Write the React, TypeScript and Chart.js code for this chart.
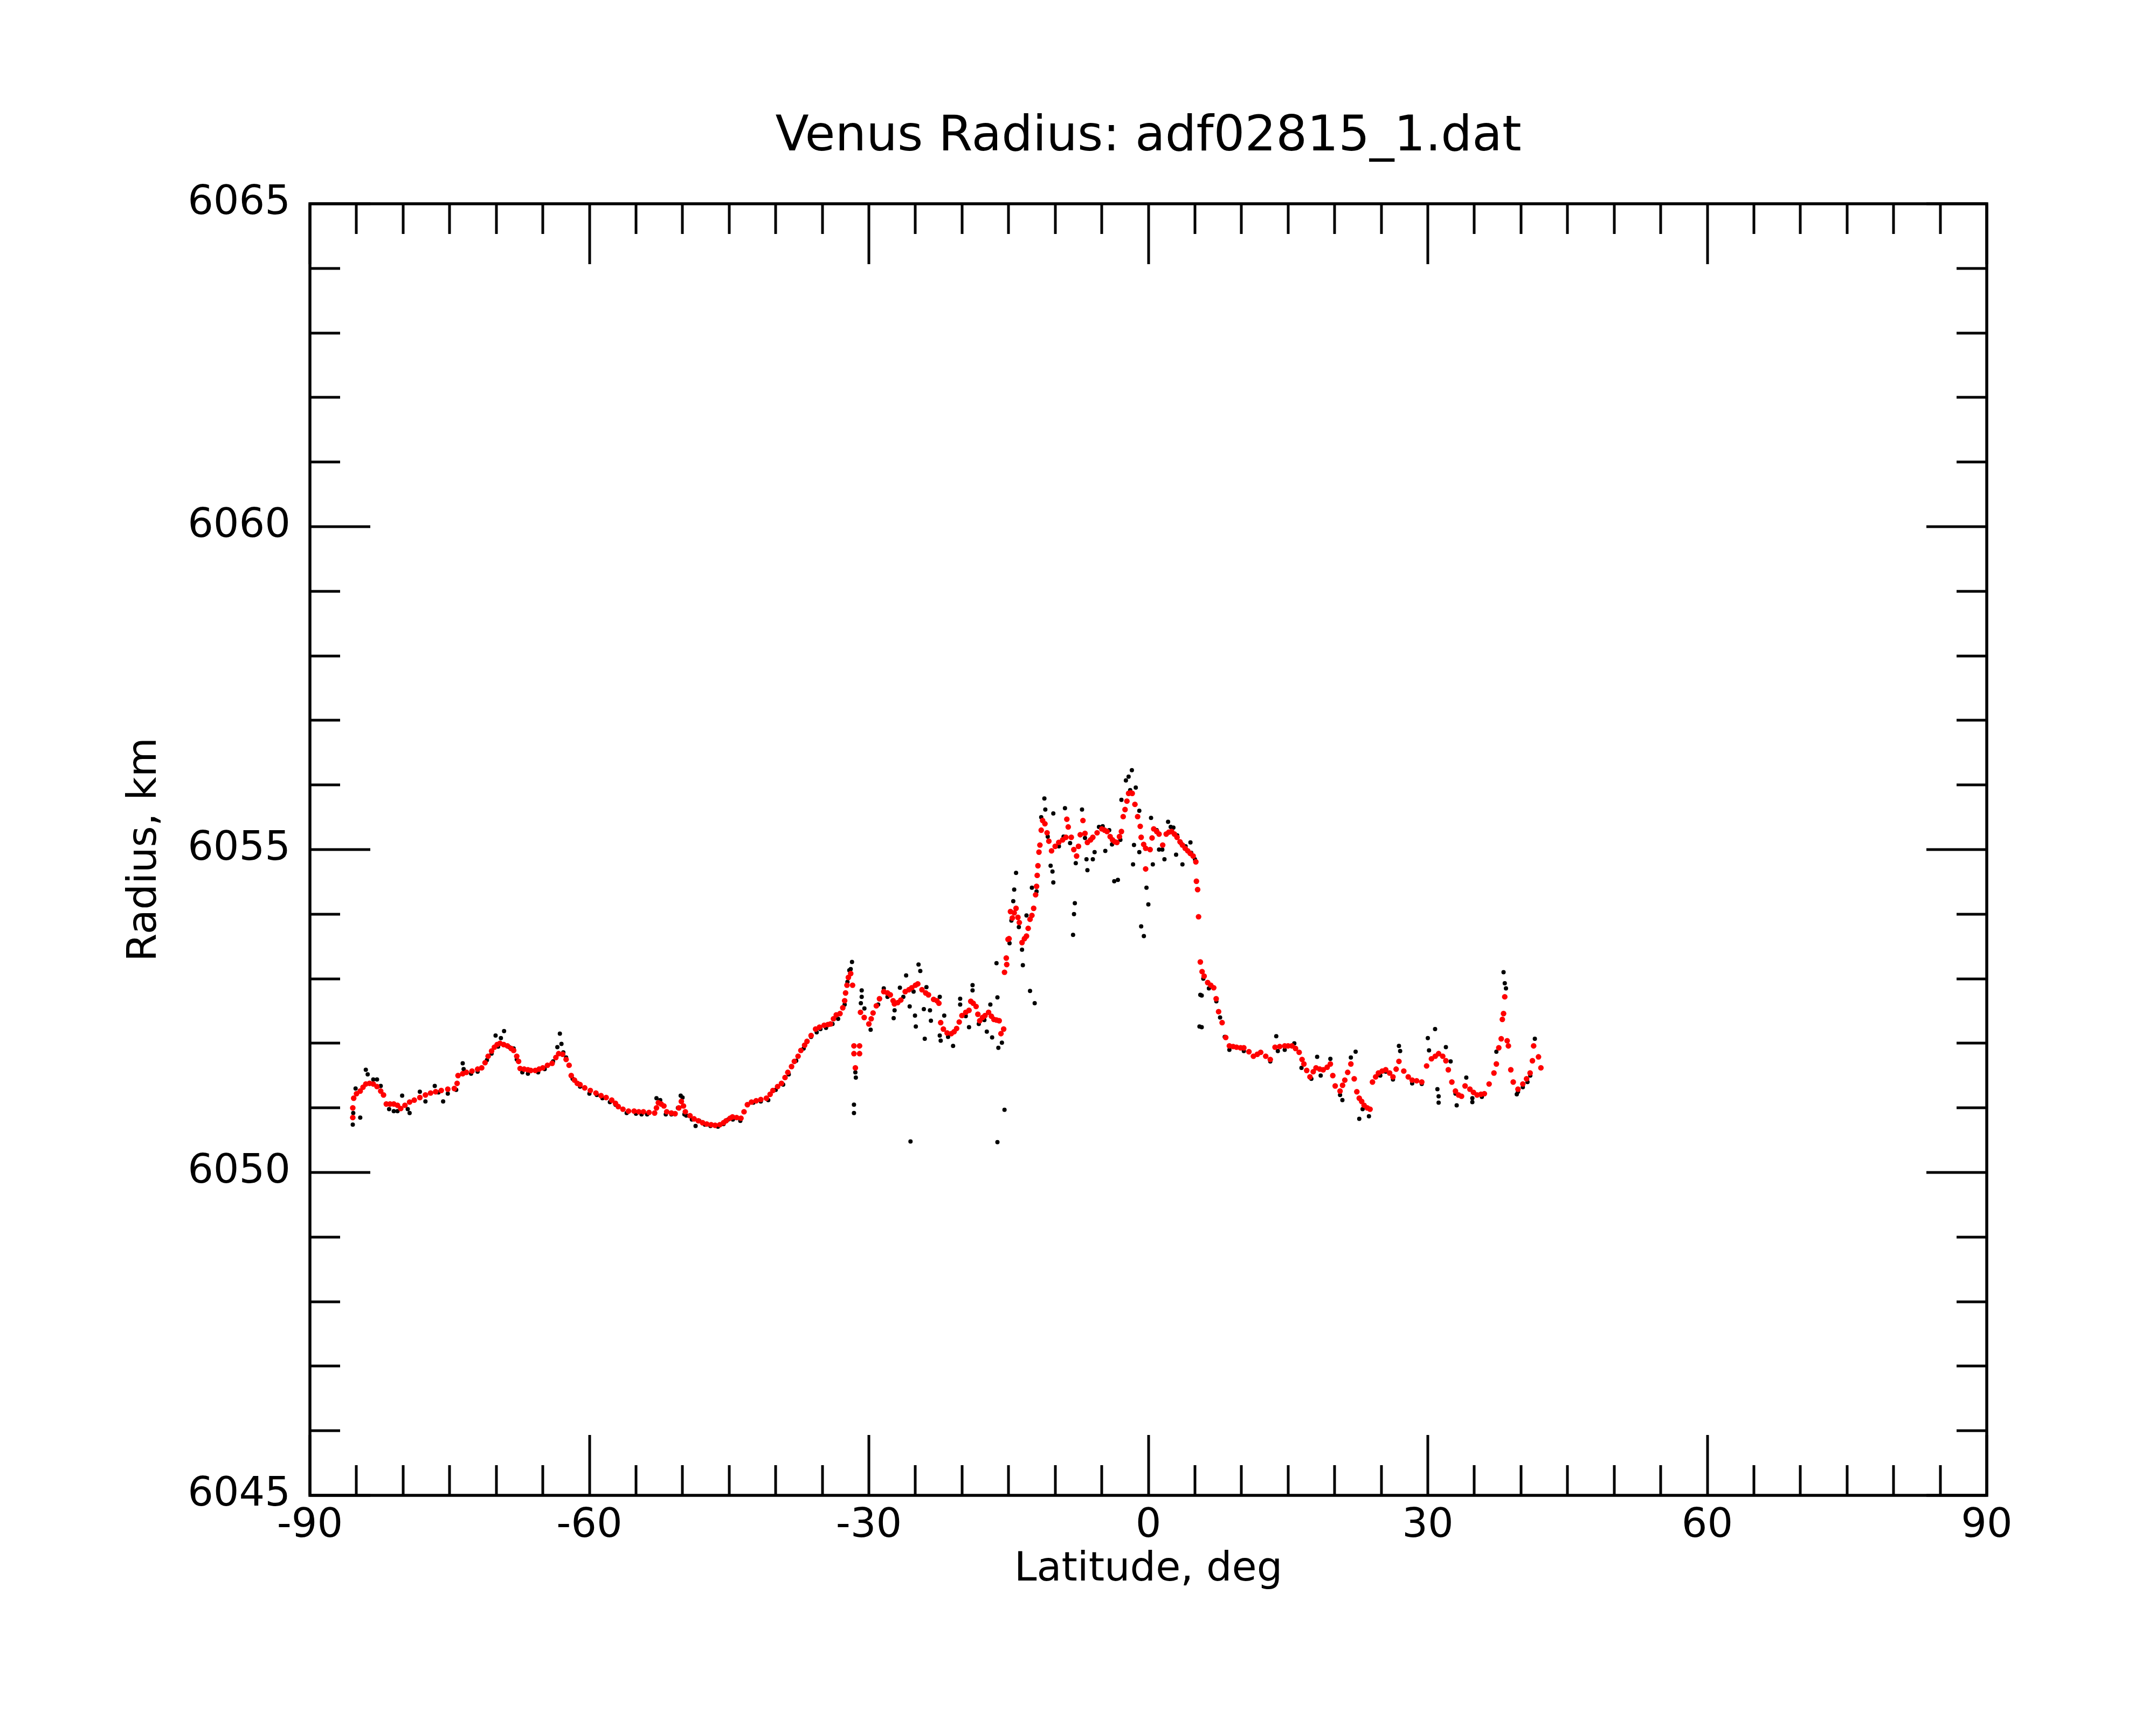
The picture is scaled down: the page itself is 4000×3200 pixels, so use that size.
import React, { useEffect, useRef } from "react";
import { Chart, registerables } from "chart.js";

Chart.register(...registerables);

const TITLE = "Venus Radius: adf02815_1.dat";
const X_TITLE = "Latitude, deg";
const Y_TITLE = "Radius, km";
const X_MIN = -90;
const X_MAX = 90;
const Y_MIN = 6045;
const Y_MAX = 6065;
const X_LABEL_STEP = 30;
const X_MINOR_STEP = 5;
const Y_LABEL_STEP = 5;
const Y_MINOR_STEP = 1;

// smoothed radius (red), [latitude deg, radius km]
const redSouth: [number, number][] = [
  [-85.4, 6050.85], [-85.4, 6051.0], [-85.3, 6051.15], [-85.0, 6051.22], [-84.6, 6051.26], [-84.3, 6051.32],
  [-84.0, 6051.37], [-83.6, 6051.38], [-83.2, 6051.37], [-82.8, 6051.33], [-82.4, 6051.26], [-82.1, 6051.2],
  [-81.8, 6051.06], [-81.4, 6051.06], [-81.0, 6051.06], [-80.6, 6051.04], [-80.25, 6050.99], [-79.8, 6051.04],
  [-79.3, 6051.09], [-78.8, 6051.12], [-78.2, 6051.16], [-77.6, 6051.2], [-77.05, 6051.23], [-76.5, 6051.25],
  [-75.9, 6051.27], [-75.2, 6051.29], [-74.5, 6051.3], [-74.2, 6051.38], [-74.1, 6051.5], [-73.6, 6051.53],
  [-73.2, 6051.55], [-72.6, 6051.57], [-72.0, 6051.6], [-71.56, 6051.62], [-71.2, 6051.7], [-70.87, 6051.8],
  [-70.5, 6051.88], [-70.2, 6051.94], [-69.9, 6051.98], [-69.6, 6052.0], [-69.2, 6051.98], [-68.8, 6051.96],
  [-68.4, 6051.92], [-68.13, 6051.89], [-67.8, 6051.8], [-67.6, 6051.72], [-67.44, 6051.61], [-67.0, 6051.6],
  [-66.6, 6051.59], [-66.3, 6051.58], [-65.8, 6051.58], [-65.4, 6051.6], [-65.0, 6051.62], [-64.5, 6051.66],
  [-64.0, 6051.69], [-63.6, 6051.78], [-63.3, 6051.84], [-62.87, 6051.83], [-62.5, 6051.75], [-62.18, 6051.66],
  [-61.95, 6051.5], [-61.6, 6051.43], [-61.3, 6051.38], [-61.0, 6051.36], [-60.5, 6051.31], [-59.9, 6051.27],
  [-59.3, 6051.23], [-58.75, 6051.19], [-58.2, 6051.16], [-57.6, 6051.12], [-57.2, 6051.07], [-56.9, 6051.02],
  [-56.4, 6050.98], [-55.8, 6050.95], [-55.2, 6050.95], [-54.7, 6050.94], [-54.2, 6050.94], [-53.6, 6050.93],
  [-53.0, 6050.92], [-52.8, 6051.0], [-52.6, 6051.08], [-52.3, 6051.06], [-52.0, 6051.03], [-51.7, 6050.94],
  [-51.2, 6050.92], [-50.8, 6050.91], [-50.4, 6051.0], [-50.13, 6051.1], [-49.9, 6051.03], [-49.7, 6050.94],
  [-49.2, 6050.88], [-48.76, 6050.83], [-48.3, 6050.8], [-47.85, 6050.77], [-47.4, 6050.75], [-46.93, 6050.74],
  [-46.5, 6050.73], [-46.0, 6050.74], [-45.6, 6050.77], [-45.33, 6050.8], [-44.9, 6050.84], [-44.64, 6050.86],
  [-44.2, 6050.85], [-43.73, 6050.84], [-43.4, 6050.94], [-43.04, 6051.05], [-42.6, 6051.09], [-42.1, 6051.11],
  [-41.6, 6051.13], [-41.0, 6051.15], [-40.6, 6051.21], [-40.3, 6051.27], [-39.8, 6051.33], [-39.38, 6051.38],
  [-39.0, 6051.47], [-38.7, 6051.55], [-38.3, 6051.64], [-38.0, 6051.72], [-37.6, 6051.8], [-37.3, 6051.89],
  [-36.9, 6051.97], [-36.64, 6052.03], [-36.2, 6052.12], [-35.72, 6052.22], [-35.3, 6052.25], [-34.8, 6052.28],
  [-34.4, 6052.29], [-34.12, 6052.3], [-33.8, 6052.38], [-33.5, 6052.44], [-33.1, 6052.46], [-32.8, 6052.55],
  [-32.6, 6052.66], [-32.5, 6052.78], [-32.35, 6052.9], [-32.2, 6053.02], [-31.95, 6053.08], [-31.75, 6052.9],
];

const redMiddle: [number, number][] = [
  [-31.6, 6051.96], [-31.6, 6051.84], [-31.45, 6051.62], [-31.0, 6051.96], [-31.0, 6051.84],
  [-30.9, 6052.48], [-30.5, 6052.4], [-30.0, 6052.3], [-29.75, 6052.38], [-29.55, 6052.47], [-29.2, 6052.58],
  [-28.86, 6052.69], [-28.4, 6052.8], [-28.0, 6052.78], [-27.7, 6052.75], [-27.4, 6052.66], [-27.26, 6052.61],
  [-26.9, 6052.63], [-26.57, 6052.67], [-26.1, 6052.8], [-25.7, 6052.83], [-25.4, 6052.86], [-25.0, 6052.9],
  [-24.75, 6052.92], [-24.3, 6052.83], [-23.9, 6052.78], [-23.6, 6052.75], [-23.05, 6052.68], [-22.7, 6052.66],
  [-22.48, 6052.62], [-22.29, 6052.32], [-22.0, 6052.22], [-21.6, 6052.16], [-21.15, 6052.15], [-20.85, 6052.18],
  [-20.58, 6052.23], [-20.3, 6052.33], [-20.01, 6052.43], [-19.6, 6052.48], [-19.25, 6052.51], [-19.06, 6052.65],
  [-18.8, 6052.62], [-18.49, 6052.57], [-18.3, 6052.45], [-18.1, 6052.35], [-17.8, 6052.4], [-17.53, 6052.43],
  [-17.15, 6052.48], [-16.85, 6052.42], [-16.58, 6052.37], [-16.3, 6052.36], [-16.01, 6052.35], [-15.82, 6052.15],
  [-15.53, 6052.22], [-15.44, 6053.1], [-15.25, 6053.32], [-15.2, 6053.22], [-15.06, 6053.61],
];

const redEquator: [number, number][] = [
  [-14.95, 6053.62], [-14.8, 6054.04], [-14.6, 6053.94], [-14.4, 6054.02], [-14.2, 6054.09], [-14.0, 6053.95],
  [-13.85, 6053.87], [-13.56, 6053.56], [-13.3, 6053.62], [-13.08, 6053.66], [-12.9, 6053.78], [-12.7, 6053.92],
  [-12.5, 6053.98], [-12.31, 6054.09], [-12.1, 6054.3], [-12.0, 6054.43], [-11.93, 6054.6], [-11.85, 6054.75],
  [-11.74, 6054.96], [-11.64, 6055.07], [-11.5, 6055.3], [-11.35, 6055.45], [-11.1, 6055.4], [-10.87, 6055.26],
  [-10.68, 6055.13], [-10.39, 6054.98], [-10.0, 6055.05], [-9.62, 6055.11], [-9.2, 6055.15], [-8.85, 6055.19],
  [-8.75, 6055.47], [-8.6, 6055.35], [-8.27, 6055.19], [-8.0, 6055.0], [-7.7, 6054.9], [-7.5, 6055.05],
  [-7.31, 6055.23], [-7.02, 6055.45], [-6.8, 6055.25], [-6.54, 6055.11], [-6.2, 6055.15], [-5.96, 6055.19],
  [-5.5, 6055.26], [-5.0, 6055.32], [-4.7, 6055.3], [-4.43, 6055.28], [-4.1, 6055.2], [-3.85, 6055.15],
  [-3.6, 6055.12], [-3.37, 6055.11], [-3.1, 6055.2], [-2.89, 6055.28], [-2.7, 6055.51], [-2.5, 6055.62],
  [-2.3, 6055.75], [-2.12, 6055.87], [-1.9, 6055.88], [-1.73, 6055.87], [-1.44, 6055.7], [-1.15, 6055.51],
  [-0.87, 6055.36], [-0.77, 6055.19], [-0.5, 6055.08], [-0.29, 6055.02], [-0.29, 6054.7], [0.19, 6055.0],
  [0.4, 6055.18], [0.58, 6055.32], [0.9, 6055.28], [1.15, 6055.24], [1.54, 6055.07], [1.92, 6055.24],
  [2.2, 6055.27], [2.5, 6055.28], [2.8, 6055.24], [3.08, 6055.19], [3.4, 6055.12], [3.66, 6055.07],
  [3.95, 6055.02], [4.23, 6054.98], [4.5, 6054.94], [4.81, 6054.9], [5.1, 6054.81], [5.16, 6054.51],
  [5.29, 6054.38], [5.39, 6053.96], [5.58, 6053.26], [5.77, 6053.11],
];

const redNorth: [number, number][] = [
  [5.99, 6053.04], [6.37, 6052.94], [6.7, 6052.9], [7.02, 6052.86], [7.28, 6052.69], [7.54, 6052.49],
  [7.92, 6052.32], [8.31, 6052.09], [8.7, 6051.96], [9.1, 6051.95], [9.47, 6051.94], [9.9, 6051.93],
  [10.25, 6051.93], [10.8, 6051.87], [11.28, 6051.8], [11.7, 6051.83], [12.06, 6051.86], [12.6, 6051.8],
  [13.09, 6051.75], [13.6, 6051.94], [14.1, 6051.95], [14.64, 6051.96], [15.0, 6051.96], [15.41, 6051.96],
  [15.8, 6051.92], [16.19, 6051.86], [16.5, 6051.75], [16.7, 6051.68], [17.0, 6051.58], [17.35, 6051.48],
  [17.7, 6051.56], [18.0, 6051.62], [18.4, 6051.6], [18.77, 6051.59], [19.2, 6051.63], [19.54, 6051.68],
  [19.8, 6051.5], [20.06, 6051.34], [20.58, 6051.26], [20.85, 6051.35], [21.09, 6051.43], [21.4, 6051.55],
  [21.74, 6051.68], [22.1, 6051.45], [22.38, 6051.25], [22.64, 6051.15], [22.9, 6051.1], [23.16, 6051.04],
  [23.5, 6051.0], [23.8, 6050.98], [24.06, 6051.4], [24.4, 6051.48], [24.7, 6051.54], [25.1, 6051.57],
  [25.48, 6051.59], [25.9, 6051.54], [26.26, 6051.48], [26.6, 6051.6], [26.9, 6051.72], [27.42, 6051.57],
  [27.9, 6051.48], [28.32, 6051.43], [28.8, 6051.42], [29.35, 6051.4], [29.87, 6051.65], [30.39, 6051.76],
  [30.8, 6051.8], [31.16, 6051.84], [31.6, 6051.8], [31.94, 6051.73], [32.2, 6051.59], [32.58, 6051.4],
  [32.97, 6051.26], [33.3, 6051.2], [33.62, 6051.18], [34.0, 6051.34], [34.52, 6051.29], [34.9, 6051.24],
  [35.29, 6051.2], [35.7, 6051.21], [36.07, 6051.22], [36.58, 6051.37], [37.1, 6051.54], [37.36, 6051.68],
  [37.62, 6051.93], [37.88, 6052.07], [38.0, 6052.37], [38.13, 6052.46], [38.26, 6052.72], [38.52, 6052.04],
  [38.65, 6051.96], [38.91, 6051.59], [39.17, 6051.4], [39.68, 6051.29], [40.2, 6051.37], [40.6, 6051.45],
  [40.98, 6051.54], [41.23, 6051.73], [41.36, 6051.96], [41.88, 6051.79], [42.14, 6051.62],
];

// raw radius samples (black), [latitude deg, radius km]
const blackSouth: [number, number][] = [
  [-85.4, 6050.74], [-85.35, 6050.92], [-85.1, 6051.3], [-84.6, 6050.85], [-84.0, 6051.59], [-83.8, 6051.52],
  [-83.2, 6051.44], [-82.8, 6051.44], [-82.4, 6051.34], [-81.5, 6050.98], [-81.0, 6050.95], [-80.6, 6050.95],
  [-80.1, 6051.19], [-79.5, 6050.98], [-79.3, 6050.92], [-78.2, 6051.25], [-77.6, 6051.1], [-76.6, 6051.34],
  [-76.2, 6051.24], [-75.7, 6051.1], [-75.2, 6051.22], [-74.3, 6051.28], [-73.6, 6051.69], [-73.5, 6051.6],
  [-72.7, 6051.53], [-72.0, 6051.56], [-71.0, 6051.74], [-70.5, 6051.84], [-70.07, 6052.12], [-69.5, 6052.08],
  [-69.16, 6052.19], [-69.8, 6051.95], [-68.6, 6051.94], [-68.13, 6051.92], [-67.8, 6051.75], [-67.2, 6051.55],
  [-66.6, 6051.53], [-65.5, 6051.55], [-64.8, 6051.6], [-63.9, 6051.72], [-63.44, 6051.94], [-63.17, 6052.15],
  [-63.0, 6051.99], [-62.8, 6051.86], [-62.5, 6051.78], [-61.8, 6051.45], [-61.0, 6051.33], [-60.0, 6051.22],
  [-59.2, 6051.2], [-58.6, 6051.15], [-57.8, 6051.09], [-57.2, 6051.05], [-56.0, 6050.92], [-55.0, 6050.91],
  [-54.4, 6050.9], [-53.8, 6050.9], [-52.8, 6051.15], [-52.4, 6051.12], [-51.8, 6050.9], [-51.2, 6050.9],
  [-50.5, 6051.0], [-50.2, 6051.19], [-50.0, 6051.16], [-49.8, 6050.9], [-49.6, 6050.88], [-49.0, 6050.82],
  [-48.6, 6050.72], [-48.2, 6050.8], [-47.6, 6050.74], [-47.0, 6050.72], [-46.2, 6050.71], [-45.6, 6050.75],
  [-45.1, 6050.82], [-44.6, 6050.82], [-43.8, 6050.8], [-43.0, 6051.05], [-42.4, 6051.08], [-41.6, 6051.1],
  [-40.8, 6051.12], [-40.0, 6051.28], [-39.2, 6051.36], [-38.6, 6051.52], [-37.8, 6051.73], [-37.0, 6051.92],
  [-36.2, 6052.1], [-35.6, 6052.17], [-35.2, 6052.22], [-34.6, 6052.24], [-33.9, 6052.3], [-33.3, 6052.38],
  [-32.6, 6052.6], [-32.3, 6052.95], [-32.1, 6053.13], [-31.95, 6053.15],
];

const blackMiddle: [number, number][] = [
  [-31.81, 6053.26], [-31.6, 6051.05], [-31.6, 6050.92], [-31.45, 6051.55], [-31.4, 6051.47], [-30.77, 6052.82],
  [-30.77, 6052.72], [-30.86, 6052.62], [-30.48, 6052.54], [-29.81, 6052.21], [-29.0, 6052.6], [-28.4, 6052.85],
  [-28.0, 6052.72], [-27.24, 6052.51], [-27.34, 6052.39], [-26.67, 6052.86], [-26.3, 6052.72], [-26.0, 6053.05],
  [-25.62, 6052.57], [-25.53, 6050.48], [-25.2, 6052.8], [-25.05, 6052.43], [-24.96, 6052.26], [-24.67, 6053.22],
  [-24.48, 6053.12], [-24.1, 6052.53], [-24.0, 6052.07], [-23.82, 6052.87], [-23.44, 6052.51], [-23.34, 6052.35],
  [-22.39, 6052.72], [-22.39, 6052.12], [-22.29, 6052.04], [-21.91, 6052.43], [-21.5, 6052.1], [-20.96, 6051.96],
  [-20.2, 6052.69], [-20.2, 6052.6], [-19.6, 6052.42], [-19.25, 6052.25], [-18.87, 6052.9], [-18.87, 6052.82],
  [-18.2, 6052.3], [-17.6, 6052.36], [-17.34, 6052.18], [-16.96, 6052.6], [-16.77, 6052.09], [-16.3, 6053.24],
  [-16.2, 6052.71], [-16.2, 6050.47], [-16.1, 6051.93], [-15.72, 6052.01], [-15.44, 6050.97],
];

const blackEquator: [number, number][] = [
  [-14.9, 6053.55], [-14.7, 6053.9], [-14.5, 6054.2], [-14.4, 6054.38], [-14.2, 6054.64], [-13.9, 6053.8],
  [-13.56, 6053.45], [-13.47, 6053.21], [-13.08, 6053.98], [-12.7, 6052.81], [-12.5, 6054.41], [-12.2, 6052.62],
  [-12.0, 6054.35], [-11.5, 6055.5], [-11.16, 6055.79], [-11.06, 6055.62], [-10.8, 6055.2], [-10.49, 6054.75],
  [-10.29, 6054.66], [-10.2, 6054.49], [-10.2, 6055.56], [-9.6, 6055.05], [-9.1, 6055.2], [-8.95, 6055.64],
  [-8.4, 6055.1], [-8.08, 6053.68], [-7.98, 6054.0], [-7.89, 6054.17], [-7.79, 6054.79], [-7.12, 6055.62],
  [-6.8, 6055.18], [-6.64, 6054.85], [-6.54, 6054.68], [-5.96, 6054.85], [-5.77, 6054.96], [-5.3, 6055.35],
  [-4.9, 6055.36], [-4.62, 6054.98], [-4.2, 6055.3], [-3.9, 6055.08], [-3.66, 6054.51], [-3.27, 6054.53],
  [-3.0, 6055.15], [-2.89, 6055.77], [-2.41, 6056.07], [-2.12, 6056.13], [-1.95, 6055.92], [-1.77, 6056.23],
  [-1.64, 6054.77], [-1.54, 6055.07], [-1.35, 6055.96], [-0.97, 6055.6], [-0.97, 6054.96], [-0.77, 6053.81],
  [-0.48, 6053.66], [-0.2, 6054.41], [0.0, 6054.15], [0.29, 6055.49], [0.48, 6054.77], [0.9, 6055.3],
  [1.15, 6055.0], [1.5, 6055.0], [1.73, 6054.85], [2.12, 6055.43], [2.4, 6055.35], [2.69, 6055.34],
  [2.98, 6054.92], [3.1, 6055.22], [3.5, 6055.1], [3.66, 6054.77], [4.0, 6055.05], [4.52, 6055.11],
  [4.6, 6054.95], [5.0, 6054.85], [5.49, 6052.26], [5.58, 6052.75],
];

const blackNorth: [number, number][] = [
  [5.73, 6052.74], [5.73, 6052.25], [5.9, 6053.0], [6.5, 6052.85], [7.3, 6052.65], [7.7, 6052.4],
  [8.2, 6052.1], [8.7, 6051.9], [10.25, 6051.88], [13.09, 6051.72], [13.73, 6052.11], [13.9, 6051.88],
  [14.64, 6051.9], [15.67, 6052.0], [16.44, 6051.62], [17.5, 6051.45], [18.12, 6051.79], [18.5, 6051.5],
  [19.54, 6051.76], [20.58, 6051.2], [20.83, 6051.12], [21.74, 6051.78], [22.25, 6051.87], [22.64, 6050.83],
  [23.0, 6050.98], [23.68, 6050.87], [24.9, 6051.5], [25.48, 6051.56], [26.26, 6051.44], [26.9, 6051.96],
  [27.03, 6051.88], [28.32, 6051.38], [29.35, 6051.37], [30.0, 6052.08], [30.13, 6051.89], [30.78, 6052.22],
  [31.03, 6051.29], [31.16, 6051.18], [31.16, 6051.08], [31.94, 6051.94], [32.45, 6051.72], [32.97, 6051.22],
  [33.1, 6051.04], [34.13, 6051.47], [34.78, 6051.09], [34.78, 6051.15], [35.8, 6051.17], [37.36, 6051.87],
  [38.13, 6053.1], [38.26, 6052.93], [38.39, 6052.85], [39.55, 6051.21], [39.68, 6051.25], [40.2, 6051.32],
  [40.7, 6051.4], [41.0, 6051.5], [41.49, 6052.07],
];

const FONT = "'DejaVu Sans', sans-serif";

const toXY = (pts: [number, number][]) => pts.map(([x, y]) => ({ x, y }));

const frameAndTicks = {
  id: "frameAndTicks",
  afterDatasetsDraw(chart: any) {
    const { ctx, chartArea: a, scales } = chart;
    const xs = scales.x;
    const ys = scales.y;
    ctx.save();
    ctx.strokeStyle = "#000";
    ctx.lineCap = "butt";
    ctx.lineWidth = 5;
    ctx.beginPath();
    for (let v = X_MIN; v <= X_MAX; v += X_MINOR_STEP) {
      const px = Math.round(xs.getPixelForValue(v));
      const len = v % X_LABEL_STEP === 0 ? 112 : 56;
      ctx.moveTo(px, a.bottom);
      ctx.lineTo(px, a.bottom - len);
      ctx.moveTo(px, a.top);
      ctx.lineTo(px, a.top + len);
    }
    for (let v = Y_MIN; v <= Y_MAX; v += Y_MINOR_STEP) {
      const py = Math.round(ys.getPixelForValue(v));
      const len = (v - Y_MIN) % Y_LABEL_STEP === 0 ? 112 : 56;
      ctx.moveTo(a.left, py);
      ctx.lineTo(a.left + len, py);
      ctx.moveTo(a.right, py);
      ctx.lineTo(a.right - len, py);
    }
    ctx.stroke();
    ctx.lineWidth = 5.5;
    ctx.strokeRect(a.left, a.top, a.right - a.left, a.bottom - a.top);
    ctx.restore();
  },
};

const TITLE_PAD_TOP = 201;
const TITLE_SIZE = 91;

export default function App() {
  const ref = useRef<HTMLCanvasElement | null>(null);

  useEffect(() => {
    if (!ref.current) return;
    const hiddenAxis = {
      type: "linear" as const,
      grid: { display: false, drawTicks: false },
      border: { display: false },
      ticks: { display: false },
    };
    const chart = new Chart(ref.current, {
      type: "scatter",
      data: {
        datasets: [
          {
            label: "smoothed",
            data: toXY([...redSouth, ...redMiddle, ...redEquator, ...redNorth]),
            backgroundColor: "#ff0000",
            borderWidth: 0,
            pointRadius: 5.2,
            order: 0,
          },
          {
            label: "raw",
            data: toXY([...blackSouth, ...blackMiddle, ...blackEquator, ...blackNorth]),
            backgroundColor: "#000000",
            borderWidth: 0,
            pointRadius: 4,
            order: 1,
          },
        ],
      },
      options: {
        animation: false,
        responsive: false,
        devicePixelRatio: 1,
        layout: { padding: 0 },
        plugins: {
          legend: { display: false },
          tooltip: { enabled: false },
          title: {
            display: true,
            text: TITLE,
            fullSize: false,
            color: "#000",
            font: { family: FONT, size: TITLE_SIZE, weight: "normal", lineHeight: 1.2 },
            padding: { top: TITLE_PAD_TOP, bottom: 0 },
          },
        },
        scales: {
          x: {
            type: "linear",
            position: "bottom",
            min: X_MIN,
            max: X_MAX,
            grid: { display: false, drawTicks: false },
            border: { display: false },
            ticks: {
              stepSize: X_LABEL_STEP,
              color: "#000",
              padding: 13,
              maxRotation: 0,
              autoSkip: false,
              font: { family: FONT, size: 75, lineHeight: 1.2 },
              callback: (v: any) => String(v),
            },
            title: {
              display: true,
              text: X_TITLE,
              color: "#000",
              font: { family: FONT, size: 75, lineHeight: 1.2 },
              padding: { top: 0, bottom: 242 },
            },
            afterFit: (s: any) => {
              s.height = 426;
            },
          },
          x2: {
            ...hiddenAxis,
            position: "top",
            min: X_MIN,
            max: X_MAX,
            afterFit: (s: any) => {
              s.height = 378 - (TITLE_PAD_TOP + TITLE_SIZE * 1.2);
            },
          },
          y: {
            type: "linear",
            position: "left",
            min: Y_MIN,
            max: Y_MAX,
            grid: { display: false, drawTicks: false },
            border: { display: false },
            ticks: {
              stepSize: Y_LABEL_STEP,
              color: "#000",
              padding: 36,
              autoSkip: false,
              font: { family: FONT, size: 75, lineHeight: 1.2 },
              callback: (v: any) => String(v),
            },
            title: {
              display: true,
              text: Y_TITLE,
              color: "#000",
              font: { family: FONT, size: 75, lineHeight: 1.2 },
              padding: { top: 225, bottom: 0 },
            },
            afterFit: (s: any) => {
              s.width = 575;
            },
          },
          y2: {
            ...hiddenAxis,
            position: "right",
            min: Y_MIN,
            max: Y_MAX,
            afterFit: (s: any) => {
              s.width = 4000 - 3686;
            },
          },
        },
      },
      plugins: [frameAndTicks],
    });
    return () => chart.destroy();
  }, []);

  return (
    <div style={{ position: "fixed", left: 0, top: 0, width: 4000, height: 3200, background: "#fff" }}>
      <canvas ref={ref} width={4000} height={3200} style={{ width: 4000, height: 3200, display: "block" }} />
    </div>
  );
}
